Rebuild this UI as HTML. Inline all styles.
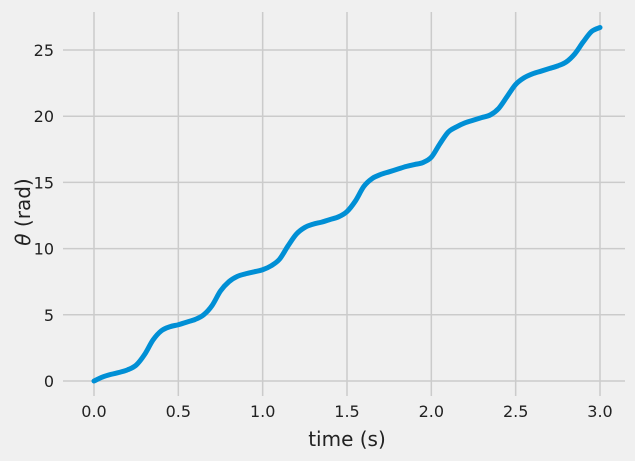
<!DOCTYPE html>
<html><head><meta charset="utf-8"><style>
body{margin:0;background:#f0f0f0;}
svg{display:block;font-family:"DejaVu Sans","Liberation Sans",sans-serif;}
</style></head><body>
<svg id="chart" width="635" height="461" viewBox="0 0 635 461">
<rect width="635" height="461" fill="#f0f0f0"/>
<g id="grid"></g>
<g id="ticks"></g>
<path id="line" fill="none" stroke="#008fd5" stroke-width="5" stroke-linecap="round" stroke-linejoin="round"/>
<text x="347" y="446" font-size="20" text-anchor="middle" fill="#222">time (s)</text>
<text transform="translate(30,212) rotate(-90)" font-size="20" text-anchor="middle" fill="#222"><tspan font-style="italic">θ</tspan> (rad)</text>
</svg>
<script>
const times=[0,0.05,0.1,0.15,0.2,0.25,0.3,0.35,0.4,0.45,0.5,0.55,0.6,0.65,0.7,0.75,0.8,0.85,0.9,0.95,1.0,1.05,1.1,1.15,1.2,1.25,1.3,1.35,1.4,1.45,1.5,1.55,1.6,1.65,1.7,1.75,1.8,1.85,1.9,1.95,2.0,2.05,2.1,2.15,2.2,2.25,2.3,2.35,2.4,2.45,2.5,2.55,2.6,2.65,2.7,2.75,2.8,2.85,2.9,2.95,3.0];
const theta=[0,0.3,0.5,0.65,0.85,1.2,2.0,3.1,3.8,4.1,4.25,4.45,4.65,5.0,5.7,6.8,7.5,7.9,8.1,8.25,8.4,8.7,9.2,10.2,11.1,11.6,11.85,12.0,12.2,12.4,12.8,13.6,14.7,15.3,15.6,15.8,16.0,16.2,16.35,16.5,16.9,17.9,18.8,19.2,19.5,19.7,19.9,20.1,20.6,21.5,22.4,22.9,23.2,23.4,23.6,23.8,24.1,24.7,25.6,26.4,26.7];
const xTicks=[0,0.5,1.0,1.5,2.0,2.5,3.0];
const xTickLabels=["0.0","0.5","1.0","1.5","2.0","2.5","3.0"];
const yTicks=[0,5,10,15,20,25];
const yTickLabels=["0","5","10","15","20","25"];
const X=v=>94+v*(600-94)/3;
const Y=v=>381-v*(381-50)/25;
const NS="http://www.w3.org/2000/svg";
const grid=document.getElementById('grid'),ticks=document.getElementById('ticks');
xTicks.forEach((t,i)=>{
 const l=document.createElementNS(NS,'line');
 l.setAttribute('x1',X(t));l.setAttribute('x2',X(t));l.setAttribute('y1',12);l.setAttribute('y2',396);
 l.setAttribute('stroke','#cbcbcb');l.setAttribute('stroke-width','1.5');
 
 
 grid.appendChild(l);
 const tx=document.createElementNS(NS,'text');
 tx.setAttribute('x',X(t));tx.setAttribute('y',417);tx.setAttribute('font-size','16');tx.setAttribute('text-anchor','middle');tx.setAttribute('fill','#222');
 tx.textContent=xTickLabels[i];
 
 
 ticks.appendChild(tx);
});
yTicks.forEach((v,i)=>{
 const l=document.createElementNS(NS,'line');
 l.setAttribute('x1',63);l.setAttribute('x2',625);l.setAttribute('y1',Y(v));l.setAttribute('y2',Y(v));
 l.setAttribute('stroke','#cbcbcb');l.setAttribute('stroke-width','1.5');
 
 
 grid.appendChild(l);
 const tx=document.createElementNS(NS,'text');
 tx.setAttribute('x',54);tx.setAttribute('y',Y(v)+6);tx.setAttribute('font-size','16');tx.setAttribute('text-anchor','end');tx.setAttribute('fill','#222');
 tx.textContent=yTickLabels[i];
 
 
 ticks.appendChild(tx);
});
const pts=times.map((t,i)=>[X(t),Y(theta[i])]);
let d='M'+pts[0][0]+','+pts[0][1];
for(let i=0;i<pts.length-1;i++){
 const p0=pts[Math.max(0,i-1)],p1=pts[i],p2=pts[i+1],p3=pts[Math.min(pts.length-1,i+2)];
 const c1=[p1[0]+(p2[0]-p0[0])/6,p1[1]+(p2[1]-p0[1])/6];
 const c2=[p2[0]-(p3[0]-p1[0])/6,p2[1]-(p3[1]-p1[1])/6];
 d+=' C'+c1[0]+','+c1[1]+' '+c2[0]+','+c2[1]+' '+p2[0]+','+p2[1];
}
document.getElementById('line').setAttribute('d',d);
</script>
</body></html>
